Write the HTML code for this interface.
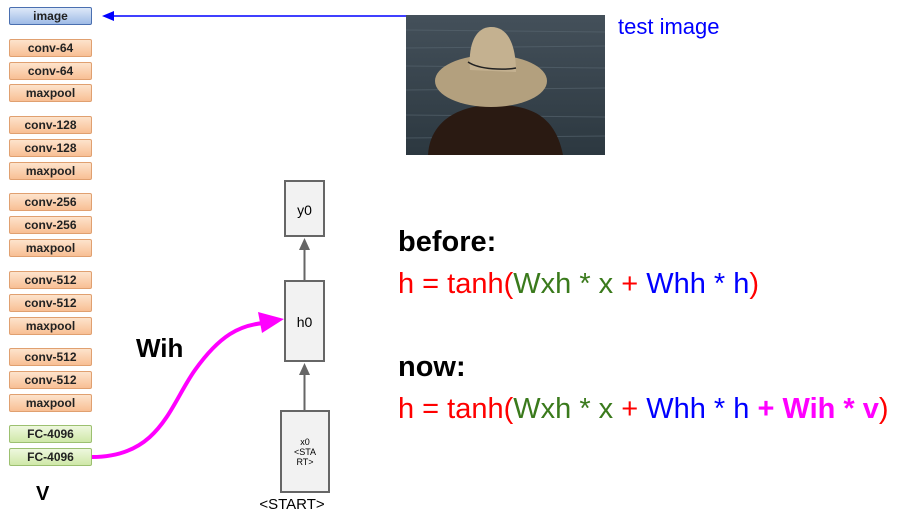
<!DOCTYPE html>
<html><head><style>
body{margin:0;width:905px;height:522px;background:#fff;position:relative;overflow:hidden;font-family:"Liberation Sans",sans-serif}
.b{position:absolute;left:9px;width:81px;height:16px;border:1px solid #e0a070;border-radius:2px;background:linear-gradient(#fde3cc,#f8bf94);font-weight:bold;font-size:12px;text-align:center;line-height:16px;color:#222}
.g{border-color:#9cc070;background:linear-gradient(#eef8de,#cfe8a8)}
.i{border-color:#4a6fb0;background:linear-gradient(#dde8f8,#9fbbe6)}
.t{position:absolute;font-size:29px;white-space:pre;line-height:1}
.r{color:#f00}.gr{color:#3a7a1c}.bl{color:#00f}.m{color:#f0f;font-weight:bold}
</style></head><body>
<div class="b i" style="top:7px">image</div>
<div class="b" style="top:39px">conv-64</div>
<div class="b" style="top:62px">conv-64</div>
<div class="b" style="top:84px">maxpool</div>
<div class="b" style="top:116px">conv-128</div>
<div class="b" style="top:139px">conv-128</div>
<div class="b" style="top:162px">maxpool</div>
<div class="b" style="top:193px">conv-256</div>
<div class="b" style="top:216px">conv-256</div>
<div class="b" style="top:239px">maxpool</div>
<div class="b" style="top:271px">conv-512</div>
<div class="b" style="top:294px">conv-512</div>
<div class="b" style="top:317px">maxpool</div>
<div class="b" style="top:348px">conv-512</div>
<div class="b" style="top:371px">conv-512</div>
<div class="b" style="top:394px">maxpool</div>
<div class="b g" style="top:425px">FC-4096</div>
<div class="b g" style="top:448px">FC-4096</div>
<div style="position:absolute;left:36px;top:483px;font-weight:bold;font-size:20px">V</div>
<div style="position:absolute;left:136px;top:333px;font-weight:bold;font-size:26px">Wih</div>
<div style="position:absolute;left:618px;top:14px;font-size:22px;color:#00f">test image</div>

<svg width="905" height="522" style="position:absolute;left:0;top:0">
<defs><linearGradient id="sea" x1="0" y1="0" x2="0" y2="1"><stop offset="0" stop-color="#44505a"/><stop offset="1" stop-color="#2c3840"/></linearGradient></defs>
<line x1="406" y1="16" x2="112" y2="16" stroke="#00f" stroke-width="1.5"/>
<polygon points="102,16 114,11 114,21" fill="#00f"/>
<rect x="406" y="15" width="199" height="140" fill="url(#sea)"/>
<g stroke="#5a6872" stroke-width="1" opacity="0.6">
<line x1="406" y1="30" x2="605" y2="32"/><line x1="406" y1="48" x2="605" y2="46"/><line x1="406" y1="66" x2="605" y2="68"/><line x1="406" y1="90" x2="605" y2="88"/><line x1="406" y1="115" x2="605" y2="117"/><line x1="406" y1="138" x2="605" y2="136"/></g>
<path d="M428,155 C430,120 460,106 490,105 C530,104 555,115 563,155 Z" fill="#2a1a12"/>
<ellipse cx="491" cy="81" rx="56" ry="26" fill="#b3a07e"/>
<path d="M470,70 C468,45 475,28 490,27 C508,26 516,45 516,72 Z" fill="#c4b190"/>
<path d="M468,62 C480,70 505,70 516,68" stroke="#222" stroke-width="1.5" fill="none"/>
<path d="M92,457 C160,457 170,405 195,370 C220,335 240,325 264,323" stroke="#f0f" stroke-width="4" fill="none"/>
<polygon points="258,312 284,319 262,333" fill="#f0f"/>
<g stroke="#666" stroke-width="2" fill="#f2f2f2">
<rect x="285" y="181" width="39" height="55"/>
<rect x="285" y="281" width="39" height="80"/>
<rect x="281" y="411" width="48" height="81"/>
<line x1="304.5" y1="281" x2="304.5" y2="248"/>
<line x1="304.5" y1="411" x2="304.5" y2="373"/>
</g>
<polygon points="304.5,238 299,250 310,250" fill="#666"/>
<polygon points="304.5,363 299,375 310,375" fill="#666"/>
<text x="304.5" y="215" font-size="14" text-anchor="middle" font-family="Liberation Sans">y0</text>
<text x="304.5" y="327" font-size="14" text-anchor="middle" font-family="Liberation Sans">h0</text>
<text font-size="9" text-anchor="middle" font-family="Liberation Sans"><tspan x="305" y="445">x0</tspan><tspan x="305" y="455">&lt;STA</tspan><tspan x="305" y="465">RT&gt;</tspan></text>
<text x="292" y="509" font-size="15" text-anchor="middle" font-family="Liberation Sans">&lt;START&gt;</text>
</svg>

<div class="t" style="left:398px;top:228px;font-weight:bold">before:</div>
<div class="t" style="left:398px;top:270px"><span class="r">h = tanh(</span><span class="gr">Wxh * x </span><span class="r">+ </span><span class="bl">Whh * h</span><span class="r">)</span></div>
<div class="t" style="left:398px;top:353px;font-weight:bold">now:</div>
<div class="t" style="left:398px;top:395px"><span class="r">h = tanh(</span><span class="gr">Wxh * x </span><span class="r">+ </span><span class="bl">Whh * h </span><span class="m">+ Wih * v</span><span class="r">)</span></div>
</body></html>
